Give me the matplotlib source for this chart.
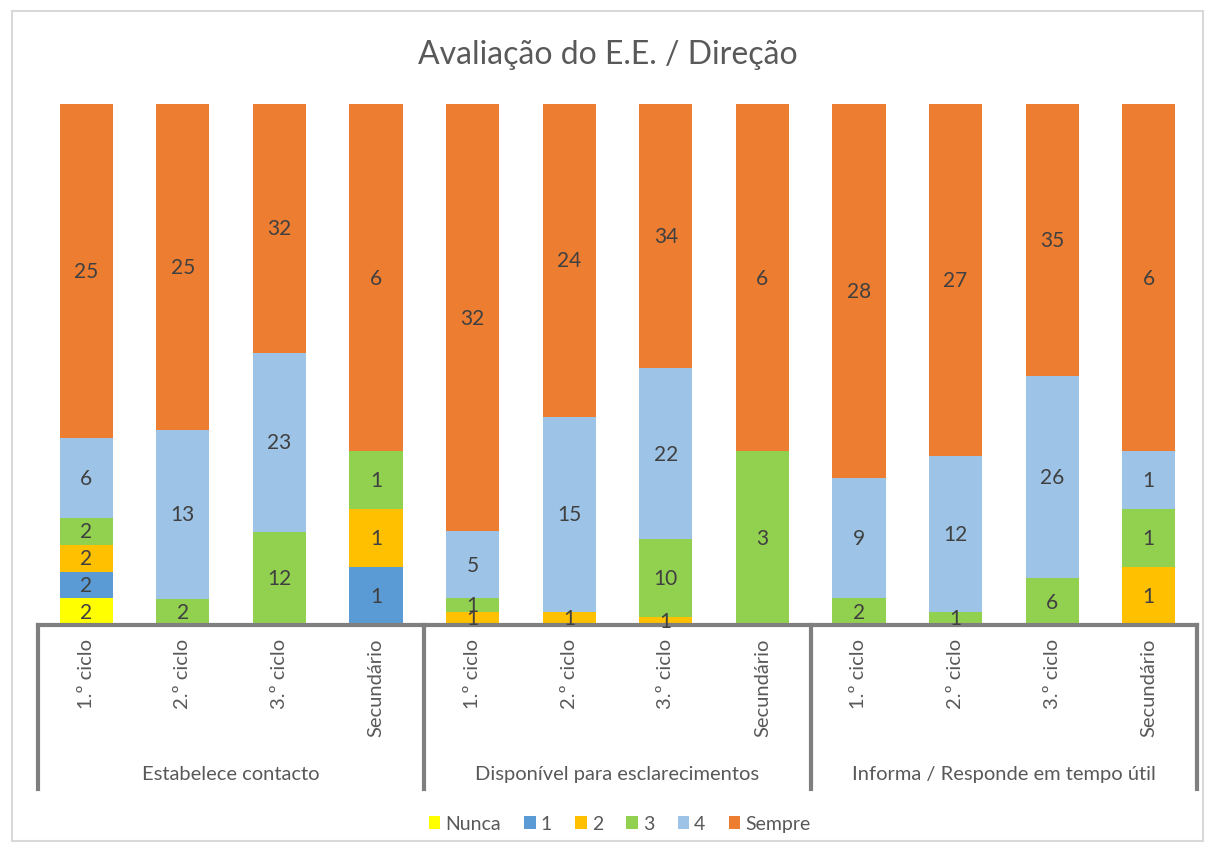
import matplotlib
matplotlib.use("Agg")
import matplotlib.pyplot as plt
import numpy as np
from matplotlib.patches import Rectangle
from matplotlib.lines import Line2D

plt.rcParams['font.family'] = ['Lato', 'DejaVu Sans']

groups = ["Estabelece contacto", "Disponível para esclarecimentos", "Informa / Responde em tempo útil"]
levels = ["1.º ciclo", "2.º ciclo", "3.º ciclo", "Secundário"]
series = ["Nunca", "1", "2", "3", "4", "Sempre"]
colors = ["#FFFF00", "#5B9BD5", "#FFC000", "#92D050", "#9DC3E6", "#ED7D31"]

# values per category (12 categories: group x level)
nunca  = [2, 0, 0, 0,   0, 0, 0, 0,   0, 0, 0, 0]
v1     = [2, 0, 0, 1,   0, 0, 0, 0,   0, 0, 0, 0]
v2     = [2, 0, 0, 1,   1, 1, 1, 0,   0, 0, 0, 1]
v3     = [2, 2, 12, 1,  1, 0, 10, 3,  2, 1, 6, 1]
v4     = [6, 13, 23, 0, 5, 15, 22, 0, 9, 12, 26, 1]
sempre = [25, 25, 32, 6, 32, 24, 34, 6, 28, 27, 35, 6]

data = np.array([nunca, v1, v2, v3, v4, sempre], dtype=float)
totals = data.sum(axis=0)
pct = data / totals

W, H = 1215, 854
fig = plt.figure(figsize=(W/100, H/100), dpi=100)
fig.patches.append(Rectangle((12/W, 12/H), 1191/W, 830/H, transform=fig.transFigure,
                             fill=False, edgecolor="#D9D9D9", linewidth=1.5))

left, right = 38/W, 1197/W
bottom, top = (H-626)/H, (H-105)/H
ax = fig.add_axes([left, bottom, right-left, top-bottom])
n = data.shape[1]
x = np.arange(n)
bw = 0.55
base = np.zeros(n)
for i, s in enumerate(series):
    ax.bar(x, pct[i], bw, bottom=base, color=colors[i], label=s, linewidth=0)
    for j in range(n):
        if data[i, j] > 0:
            ax.text(x[j], base[j] + pct[i, j]/2, f"{int(data[i, j])}", ha="center", va="center",
                    fontsize=15, color="#404040")
    base += pct[i]

ax.set_xlim(-0.5, n-0.5)
ax.set_ylim(0, 1)
ax.set_yticks([])
ax.set_xticks([])
for sp in ["top", "right", "left"]:
    ax.spines[sp].set_visible(False)
ax.spines["bottom"].set_color("#7F7F7F")
ax.spines["bottom"].set_linewidth(3)

trans = ax.get_xaxis_transform()
# level tick labels
for j in range(n):
    ax.text(x[j], -0.025, levels[j % 4], rotation=90, ha="center", va="top",
            fontsize=14.5, color="#595959", transform=trans, clip_on=False)
# group separators and labels
sep_bottom = -(790-626)/(626-105)
for g in range(len(groups)+1):
    xs = g*4 - 0.5
    ax.add_line(Line2D([xs, xs], [0, sep_bottom], transform=trans, color="#7F7F7F",
                       linewidth=3, clip_on=False))
for g, name in enumerate(groups):
    ax.text(g*4 + 1.5, -(775-626)/(626-105), name, ha="center", va="center",
            fontsize=14.5, color="#595959", transform=trans, clip_on=False)

fig.text(0.5, (H-55)/H, "Avaliação do E.E. / Direção", ha="center", va="center",
         fontsize=23, color="#595959")

handles, labs = ax.get_legend_handles_labels()
fig.legend(handles, labs, loc="center", bbox_to_anchor=(0.51, (H-825)/H), ncol=6,
           frameon=False, fontsize=14, handlelength=0.6, handleheight=0.6,
           handletextpad=0.25, columnspacing=1.2, labelcolor="#595959")

fig.savefig("out.png", dpi=100)
